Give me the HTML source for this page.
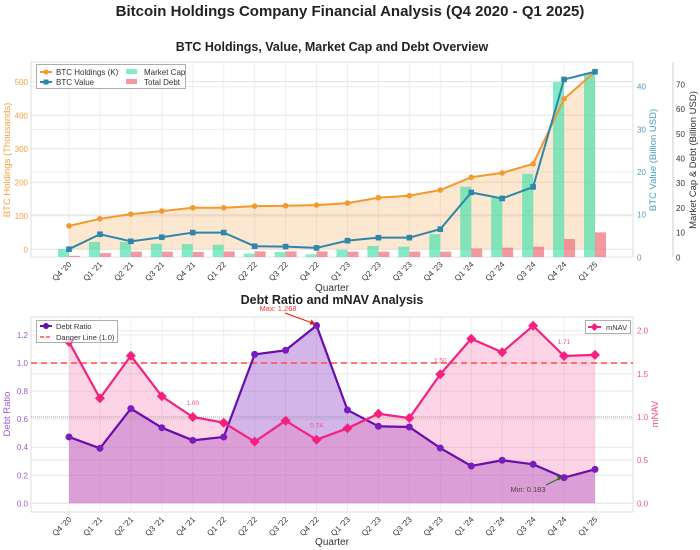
<!DOCTYPE html>
<html><head><meta charset="utf-8"><style>
body{margin:0;background:#fff;}
svg{display:block;font-family:"Liberation Sans",sans-serif;}
</style></head><body>
<svg id="c" width="700" height="550" viewBox="0 0 700 550" xmlns="http://www.w3.org/2000/svg">
<text x="350" y="16" text-anchor="middle" font-size="15" font-weight="bold" fill="#222">Bitcoin Holdings Company Financial Analysis (Q4 2020 - Q1 2025)</text>
<text x="332" y="51" text-anchor="middle" font-size="12.5" font-weight="bold" fill="#222">BTC Holdings, Value, Market Cap and Debt Overview</text>
<text x="332" y="304" text-anchor="middle" font-size="12.5" font-weight="bold" fill="#222">Debt Ratio and mNAV Analysis</text>
<g id="top"></g><g id="bot"></g>
</svg>
<script>
const quarters=["Q4 '20","Q1 '21","Q2 '21","Q3 '21","Q4 '21","Q1 '22","Q2 '22","Q3 '22","Q4 '22","Q1 '23","Q2 '23","Q3 '23","Q4 '23","Q1 '24","Q2 '24","Q3 '24","Q4 '24","Q1 '25"];
const btcHoldings=[70,91,105,114,124,124,129,130,132,138,154,160,177,215,228,255,449,530];
const btcValue=[1.9,5.4,3.75,4.7,5.8,5.8,2.6,2.5,2.2,3.9,4.6,4.6,6.6,15.2,13.8,16.5,41.7,43.5];
const marketCap=[3.4,6.2,6.2,5.5,5.4,5.1,1.5,2.1,1.2,3.1,4.6,4.3,9.4,28.6,24.1,33.8,71,74.7];
const totalDebt=[0.6,1.7,2.3,2.3,2.2,2.4,2.4,2.4,2.4,2.3,2.3,2.3,2.3,3.6,3.9,4.3,7.4,10.1];
const debtRatio=[0.473,0.392,0.675,0.539,0.449,0.473,1.062,1.091,1.268,0.665,0.549,0.544,0.394,0.266,0.307,0.278,0.183,0.242];
const mnav=[1.87,1.217,1.71,1.24,1.0,0.934,0.714,0.957,0.737,0.869,1.038,0.988,1.495,1.907,1.75,2.058,1.707,1.72];
const holdTicks=[0,100,200,300,400,500];
const valTicks=[0,10,20,30,40];
const capTicks=[0,10,20,30,40,50,60,70];
const drTicks=[0,0.2,0.4,0.6,0.8,1.0,1.2];
const mnavTicks=[0,0.5,1.0,1.5,2.0];

const NS="http://www.w3.org/2000/svg";
function mk(p,t,a,txt){const e=document.createElementNS(NS,t);for(const k in a)e.setAttribute(k,a[k]);if(txt!==undefined)e.textContent=txt;p.appendChild(e);return e;}
const L=31,R=633;
const xq=i=>69+i*(595-69)/(quarters.length-1);
const T=document.getElementById('top');
const tT=62,tB=257;
const yH=v=>249.3-v*0.335;
const yV=v=>257.3-v*4.265;
const yC=v=>257.3-v*2.47;
let e=mk(T,'rect',{x:L,y:tT,width:R-L,height:tB-tT,fill:'#fff',stroke:'#ddd','stroke-width':1});

quarters.forEach((q,i)=>{mk(T,'line',{x1:xq(i),x2:xq(i),y1:tT,y2:tB,stroke:'#eee'});});
holdTicks.forEach(v=>{mk(T,'line',{x1:L,x2:R,y1:yH(v),y2:yH(v),stroke:'#e4e4e4'});
 e=mk(T,'text',{x:L-3,y:yH(v)+3,'text-anchor':'end','font-size':8,fill:'#f5a040'},v);
 });
valTicks.forEach(v=>{mk(T,'line',{x1:L,x2:R,y1:yV(v),y2:yV(v),stroke:'#ececec'});
 e=mk(T,'text',{x:R+4,y:yV(v)+3,'font-size':8,fill:'#4a9cc0'},v);
 });
mk(T,'line',{x1:673,x2:673,y1:tT,y2:tB,stroke:'#ccc'});
capTicks.forEach(v=>{e=mk(T,'text',{x:676,y:yC(v)+3,'font-size':8,fill:'#333'},v);
 });
let pts=btcHoldings.map((v,i)=>xq(i)+','+yH(v)).join(' ');
e=mk(T,'polygon',{points:xq(0)+','+yH(0)+' '+pts+' '+xq(17)+','+yH(0),fill:'rgba(245,160,70,0.25)'});

marketCap.forEach((v,i)=>{e=mk(T,'rect',{x:xq(i)-11,y:yC(v),width:11,height:tB-yC(v),fill:'rgba(64,224,170,0.65)'});
 });
totalDebt.forEach((v,i)=>{e=mk(T,'rect',{x:xq(i),y:yC(v),width:11,height:tB-yC(v),fill:'rgba(240,110,120,0.7)'});
 });
e=mk(T,'polyline',{points:pts,fill:'none',stroke:'#f39a2e','stroke-width':2});

btcHoldings.forEach((v,i)=>{e=mk(T,'circle',{cx:xq(i),cy:yH(v),r:2.8,fill:'#f39a2e'});
 });
e=mk(T,'polyline',{points:btcValue.map((v,i)=>xq(i)+','+yV(v)).join(' '),fill:'none',stroke:'#2e86ab','stroke-width':2});

btcValue.forEach((v,i)=>{e=mk(T,'rect',{x:xq(i)-2.8,y:yV(v)-2.8,width:5.6,height:5.6,fill:'#2e86ab'});
 });
quarters.forEach((q,i)=>{e=mk(T,'text',{x:xq(i)+3,y:tB+8,'text-anchor':'end','font-size':8,fill:'#333',transform:`rotate(-45 ${xq(i)+3} ${tB+8})`},q);
 });
e=mk(T,'text',{x:332,y:291,'text-anchor':'middle','font-size':10,fill:'#333'},'Quarter');

e=mk(T,'text',{x:10,y:160,'text-anchor':'middle','font-size':9.5,fill:'#f5a040',transform:'rotate(-90 10 160)'},'BTC Holdings (Thousands)');

e=mk(T,'text',{x:656,y:160,'text-anchor':'middle','font-size':9.5,fill:'#4a9cc0',transform:'rotate(-90 656 160)'},'BTC Value (Billion USD)');

e=mk(T,'text',{x:696,y:160,'text-anchor':'middle','font-size':9.5,fill:'#333',transform:'rotate(-90 696 160)'},'Market Cap & Debt (Billion USD)');

let lg=mk(T,'g',{});
mk(lg,'rect',{x:36.5,y:64.5,width:149,height:24,fill:'rgba(255,255,255,0.9)',stroke:'#999','stroke-width':0.8});
mk(lg,'line',{x1:40,x2:52,y1:72,y2:72,stroke:'#f39a2e','stroke-width':2});mk(lg,'circle',{cx:46,cy:72,r:2.5,fill:'#f39a2e'});
mk(lg,'text',{x:56,y:75,'font-size':8,fill:'#333'},'BTC Holdings (K)');
mk(lg,'line',{x1:40,x2:52,y1:82,y2:82,stroke:'#2e86ab','stroke-width':2});mk(lg,'rect',{x:43.5,y:79.5,width:5,height:5,fill:'#2e86ab'});
mk(lg,'text',{x:56,y:85,'font-size':8,fill:'#333'},'BTC Value');
mk(lg,'rect',{x:126,y:69,width:11,height:5,fill:'rgba(64,224,170,0.65)'});mk(lg,'text',{x:144,y:75,'font-size':8,fill:'#333'},'Market Cap');
mk(lg,'rect',{x:126,y:79,width:11,height:5,fill:'rgba(240,110,120,0.7)'});mk(lg,'text',{x:144,y:85,'font-size':8,fill:'#333'},'Total Debt');

const B=document.getElementById('bot');
const bT=317,bB=512;
const yD=v=>503.3-v*140.25;
const yM=v=>503.3-v*86.3;
e=mk(B,'rect',{x:L,y:bT,width:R-L,height:bB-bT,fill:'#fff',stroke:'#ddd'});

quarters.forEach((q,i)=>{mk(B,'line',{x1:xq(i),x2:xq(i),y1:bT,y2:bB,stroke:'#eee'});});
drTicks.forEach(v=>{mk(B,'line',{x1:L,x2:R,y1:yD(v),y2:yD(v),stroke:'#e8e8e8'});
 e=mk(B,'text',{x:L-3,y:yD(v)+3,'text-anchor':'end','font-size':8,fill:'#9b59d0'},v.toFixed(1));
 });
mnavTicks.forEach(v=>{mk(B,'line',{x1:L,x2:R,y1:yM(v),y2:yM(v),stroke:'#e8e8e8'});
 e=mk(B,'text',{x:R+4,y:yM(v)+3,'font-size':8,fill:'#f0508f'},v.toFixed(1));
 });
let dp=debtRatio.map((v,i)=>xq(i)+','+yD(v)).join(' ');
let mp=mnav.map((v,i)=>xq(i)+','+yM(v)).join(' ');
e=mk(B,'polygon',{points:xq(0)+','+yD(0)+' '+dp+' '+xq(17)+','+yD(0),fill:'rgba(140,60,200,0.38)'});

e=mk(B,'polygon',{points:xq(0)+','+yM(0)+' '+mp+' '+xq(17)+','+yM(0),fill:'rgba(245,100,160,0.28)'});

e=mk(B,'line',{x1:L,x2:R,y1:yD(1),y2:yD(1),stroke:'#ff5555','stroke-width':1.6,'stroke-dasharray':'6,4'});

e=mk(B,'line',{x1:L,x2:R,y1:yM(1),y2:yM(1),stroke:'#999','stroke-width':0.8,'stroke-dasharray':'1,1'});

e=mk(B,'polyline',{points:dp,fill:'none',stroke:'#6a0dad','stroke-width':2.2});

debtRatio.forEach((v,i)=>{e=mk(B,'circle',{cx:xq(i),cy:yD(v),r:3.5,fill:'#7a1bbd'});
 });
e=mk(B,'polyline',{points:mp,fill:'none',stroke:'#f5207f','stroke-width':2.2});

mnav.forEach((v,i)=>{const x=xq(i),y=yM(v);e=mk(B,'polygon',{points:`${x},${y-5} ${x+5},${y} ${x},${y+5} ${x-5},${y}`,fill:'#f5207f'});
 });
[0,4,8,12,16].forEach(i=>{e=mk(B,'text',{x:xq(i),y:yM(mnav[i])-12,'text-anchor':'middle','font-size':6.5,fill:'#f0508f'},mnav[i].toFixed(2));
 });
e=mk(B,'text',{x:278,y:311,'text-anchor':'middle','font-size':7.5,fill:'#ff3333'},'Max: '+Math.max(...debtRatio).toFixed(3));

mk(B,'line',{x1:285,y1:313,x2:xq(8)-3,y2:yD(1.268)-2,stroke:'#ee1111','stroke-width':1});
mk(B,'polygon',{points:`${xq(8)-1},${yD(1.268)-1} ${xq(8)-7},${yD(1.268)-1} ${xq(8)-5},${yD(1.268)-6}`,fill:'#ee1111'});
e=mk(B,'text',{x:528,y:492,'text-anchor':'middle','font-size':7.5,fill:'#444'},'Min: '+Math.min(...debtRatio).toFixed(3));

mk(B,'line',{x1:546,y1:485,x2:xq(16)-3,y2:yD(0.183),stroke:'#2e6b1e','stroke-width':1});
mk(B,'polygon',{points:`${xq(16)-1},${yD(0.183)} ${xq(16)-7},${yD(0.183)-2} ${xq(16)-6},${yD(0.183)+3}`,fill:'#2e6b1e'});
quarters.forEach((q,i)=>{e=mk(B,'text',{x:xq(i)+3,y:bB+8,'text-anchor':'end','font-size':8,fill:'#333',transform:`rotate(-45 ${xq(i)+3} ${bB+8})`},q);
 });
e=mk(B,'text',{x:332,y:545,'text-anchor':'middle','font-size':10,fill:'#333'},'Quarter');

e=mk(B,'text',{x:10,y:414,'text-anchor':'middle','font-size':9.5,fill:'#9b59d0',transform:'rotate(-90 10 414)'},'Debt Ratio');

e=mk(B,'text',{x:658,y:414,'text-anchor':'middle','font-size':9.5,fill:'#f0508f',transform:'rotate(-90 658 414)'},'mNAV');

lg=mk(B,'g',{});
mk(lg,'rect',{x:36.5,y:320.5,width:81,height:22,fill:'rgba(255,255,255,0.85)',stroke:'#999','stroke-width':0.8});
mk(lg,'line',{x1:40,x2:52,y1:326,y2:326,stroke:'#6a0dad','stroke-width':2});mk(lg,'circle',{cx:46,cy:326,r:3,fill:'#6a0dad'});
mk(lg,'text',{x:56,y:329,'font-size':7.5,fill:'#333'},'Debt Ratio');
mk(lg,'line',{x1:40,x2:52,y1:337,y2:337,stroke:'#ff5555','stroke-width':1.6,'stroke-dasharray':'4,2'});
mk(lg,'text',{x:56,y:340,'font-size':7.5,fill:'#333'},'Danger Line (1.0)');
lg=mk(B,'g',{});
mk(lg,'rect',{x:585.5,y:320.5,width:45,height:13,fill:'#fff',stroke:'#999','stroke-width':0.8});
mk(lg,'line',{x1:588,x2:601,y1:327,y2:327,stroke:'#f5207f','stroke-width':2});
mk(lg,'polygon',{points:'594.5,323 598.5,327 594.5,331 590.5,327',fill:'#f5207f'});
mk(lg,'text',{x:606,y:330,'font-size':7.5,fill:'#333'},'mNAV');
</script>
</body></html>
